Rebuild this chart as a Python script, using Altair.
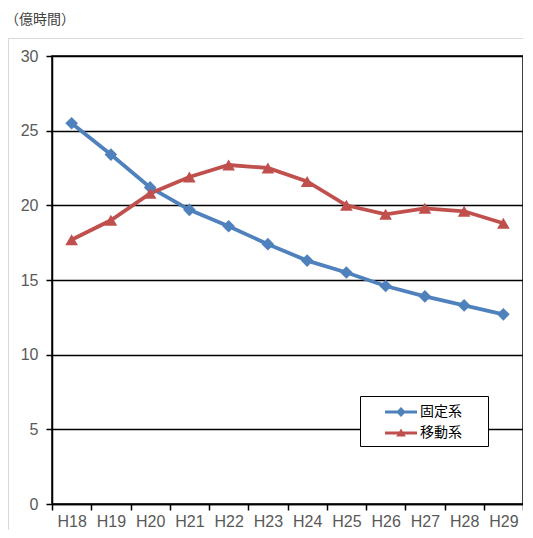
import altair as alt
import pandas as pd

years = ["H18", "H19", "H20", "H21", "H22", "H23", "H24", "H25", "H26", "H27", "H28", "H29"]
fixed = [25.5, 23.4, 21.2, 19.7, 18.6, 17.4, 16.3, 15.5, 14.6, 13.9, 13.3, 12.7]
mobile = [17.7, 19.0, 20.8, 21.9, 22.7, 22.5, 21.6, 20.0, 19.4, 19.8, 19.6, 18.8]
series = ["固定系", "移動系"]
colors = ["#4F81BD", "#C0504D"]
shapes = ["diamond", "triangle-up"]
y_ticks = [0, 5, 10, 15, 20, 25, 30]
unit_title = "（億時間）"

rows = []
for name, vals, col, shp in zip(series, [fixed, mobile], colors, shapes):
    for yr, v in zip(years, vals):
        rows.append({"year": yr, "value": v, "series": name, "col": col, "shp": shp})
df = pd.DataFrame(rows)

FONT = "Noto Sans CJK JP"
LAT = "Liberation Sans Narrow, Liberation Sans, Noto Sans CJK JP"

diamond_path = ("M-1.6,-0.16L-0.34,-0.16L0,-0.5L0.34,-0.16L1.6,-0.16L1.6,0.16"
                "L0.34,0.16L0,0.5L-0.34,0.16L-1.6,0.16Z")
tri_path = ("M-1.6,-0.16L-0.17,-0.16L0,-0.45L0.17,-0.16L1.6,-0.16L1.6,0.16"
            "L0.37,0.16L0.48,0.35L-0.48,0.35L-0.37,0.16L-1.6,0.16Z")

x_enc = alt.X(
    "year:N", sort=years, bandPosition=0.5,
    scale=alt.Scale(type="band", paddingInner=0, paddingOuter=0),
    axis=alt.Axis(title=None, labelAngle=0, tickBand="extent", domainColor="black",
                  domainWidth=1.5, tickColor="black", tickWidth=1.5, tickSize=6,
                  labelColor="#595959", labelFont=LAT, labelFontSize=16, labelPadding=3,
                  grid=False),
)
y_enc = alt.Y(
    "value:Q", scale=alt.Scale(domain=[0, 30]),
    axis=alt.Axis(title=None, values=y_ticks, grid=True, gridColor="black", gridWidth=1.3,
                  domainColor="black", domainWidth=1.5, tickColor="black", tickWidth=1.5,
                  tickSize=6, labelColor="#595959", labelFont=LAT, labelFontSize=16,
                  labelPadding=8),
)

legend = alt.Legend(
    title=None, orient="none", legendX=308, legendY=340,
    symbolType=alt.ExprRef(expr="datum.index === 0 ? '" + diamond_path + "' : '" + tri_path + "'"),
    symbolFillColor=alt.ExprRef(expr="datum.index === 0 ? '" + colors[0] + "' : '" + colors[1] + "'"),
    symbolSize=400, symbolOffset=25, symbolStrokeWidth=0, padding=6, rowPadding=4,
    strokeColor="black", fillColor="white",
    labelFont=FONT, labelFontSize=14, labelColor="black", labelOffset=9,
    labelExpr="datum.label + '\u2800\u2800'",
)

frame = alt.Chart(alt.Data(values=[{"a": 1}])).mark_rect(
    fill="white", fillOpacity=0, stroke="#d9d9d9", strokeWidth=1
).encode(x=alt.value(-43.5), x2=alt.value(600), y=alt.value(-17.5), y2=alt.value(600))

base = alt.Chart(df)
lines = base.mark_line(strokeWidth=3.8).encode(
    x=x_enc, y=y_enc,
    color=alt.Color("series:N", scale=alt.Scale(domain=series, range=colors), legend=legend),
)
points = base.mark_point(filled=True, opacity=1).encode(
    x=x_enc, y=y_enc,
    fill=alt.Fill("col:N", scale=None),
    shape=alt.Shape("shp:N", scale=None),
    size=alt.value(160),
)

chart = alt.layer(frame, lines, points).properties(
    width=471, height=448,
    title=alt.TitleParams(unit_title, anchor="start", frame="group", dx=-47, offset=11,
                          fontSize=14, font=FONT, color="#404040", fontWeight="normal"),
    autosize=alt.AutoSizeParams(type="none"),
    padding={"left": 44, "top": 48, "right": 0, "bottom": 26},
).configure_view(stroke="black", strokeWidth=1.5)

chart.save("out.html", embed_options={"renderer": "svg", "actions": False})
